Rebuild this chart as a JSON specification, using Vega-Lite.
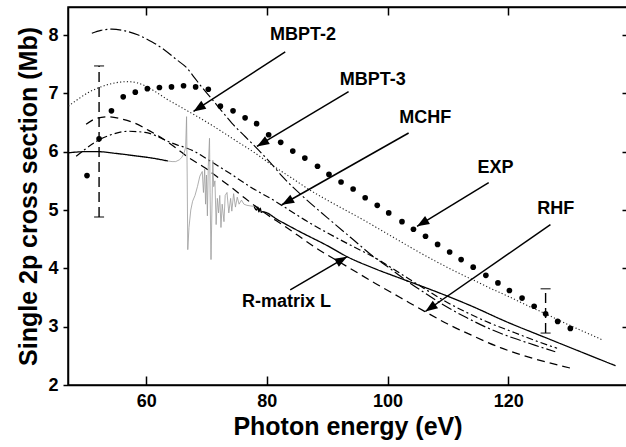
{
  "$schema": "https://vega.github.io/schema/vega-lite/v6.json",
  "width": 559,
  "height": 378,
  "autosize": {"type": "none"},
  "padding": {"left": 68, "top": 7, "right": 0, "bottom": 62},
  "background": "white",
  "config": {
    "view": {"stroke": "black", "strokeWidth": 1.5},
    "font": "Liberation Sans",
    "axis": {
      "domainColor": "black", "domainWidth": 1.5, "tickColor": "black", "tickWidth": 1.5,
      "labelColor": "black", "titleColor": "black", "labelFont": "Liberation Sans", "titleFont": "Liberation Sans",
      "labelFontWeight": "bold", "titleFontWeight": "bold", "labelFontSize": 18, "titleFontSize": 25,
      "grid": false, "labelFlush": false
    }
  },
  "datasets": {
    "curves": [
      {"series": "MBPT-2", "part": "m2", "E": 47.1, "s": 6.78},
      {"series": "MBPT-2", "part": "m2", "E": 49, "s": 6.92},
      {"series": "MBPT-2", "part": "m2", "E": 50.5, "s": 7.02},
      {"series": "MBPT-2", "part": "m2", "E": 52, "s": 7.09},
      {"series": "MBPT-2", "part": "m2", "E": 54, "s": 7.16},
      {"series": "MBPT-2", "part": "m2", "E": 55.5, "s": 7.19},
      {"series": "MBPT-2", "part": "m2", "E": 57, "s": 7.2},
      {"series": "MBPT-2", "part": "m2", "E": 58.5, "s": 7.18},
      {"series": "MBPT-2", "part": "m2", "E": 60, "s": 7.12},
      {"series": "MBPT-2", "part": "m2", "E": 61.5, "s": 7.03},
      {"series": "MBPT-2", "part": "m2", "E": 63.6, "s": 6.89},
      {"series": "MBPT-2", "part": "m2", "E": 65.5, "s": 6.78},
      {"series": "MBPT-2", "part": "m2", "E": 67.5, "s": 6.66},
      {"series": "MBPT-2", "part": "m2", "E": 70, "s": 6.51},
      {"series": "MBPT-2", "part": "m2", "E": 72, "s": 6.38},
      {"series": "MBPT-2", "part": "m2", "E": 75, "s": 6.18},
      {"series": "MBPT-2", "part": "m2", "E": 78, "s": 5.98},
      {"series": "MBPT-2", "part": "m2", "E": 81, "s": 5.76},
      {"series": "MBPT-2", "part": "m2", "E": 84.4, "s": 5.53},
      {"series": "MBPT-2", "part": "m2", "E": 87, "s": 5.35},
      {"series": "MBPT-2", "part": "m2", "E": 90, "s": 5.17},
      {"series": "MBPT-2", "part": "m2", "E": 93, "s": 5.0},
      {"series": "MBPT-2", "part": "m2", "E": 96, "s": 4.83},
      {"series": "MBPT-2", "part": "m2", "E": 99, "s": 4.65},
      {"series": "MBPT-2", "part": "m2", "E": 102, "s": 4.47},
      {"series": "MBPT-2", "part": "m2", "E": 105, "s": 4.29},
      {"series": "MBPT-2", "part": "m2", "E": 108, "s": 4.12},
      {"series": "MBPT-2", "part": "m2", "E": 111, "s": 3.96},
      {"series": "MBPT-2", "part": "m2", "E": 114, "s": 3.81},
      {"series": "MBPT-2", "part": "m2", "E": 117, "s": 3.66},
      {"series": "MBPT-2", "part": "m2", "E": 120, "s": 3.52},
      {"series": "MBPT-2", "part": "m2", "E": 123, "s": 3.37},
      {"series": "MBPT-2", "part": "m2", "E": 126, "s": 3.23},
      {"series": "MBPT-2", "part": "m2", "E": 129, "s": 3.08},
      {"series": "MBPT-2", "part": "m2", "E": 132, "s": 2.94},
      {"series": "MBPT-2", "part": "m2", "E": 135.5, "s": 2.78},

      {"series": "MBPT-3", "part": "m3", "E": 51.0, "s": 8.03},
      {"series": "MBPT-3", "part": "m3", "E": 52.5, "s": 8.08},
      {"series": "MBPT-3", "part": "m3", "E": 54.3, "s": 8.1},
      {"series": "MBPT-3", "part": "m3", "E": 56.5, "s": 8.07},
      {"series": "MBPT-3", "part": "m3", "E": 58.7, "s": 8.0},
      {"series": "MBPT-3", "part": "m3", "E": 61, "s": 7.88},
      {"series": "MBPT-3", "part": "m3", "E": 63.1, "s": 7.74},
      {"series": "MBPT-3", "part": "m3", "E": 65, "s": 7.58},
      {"series": "MBPT-3", "part": "m3", "E": 66.7, "s": 7.44},
      {"series": "MBPT-3", "part": "m3", "E": 68, "s": 7.27},
      {"series": "MBPT-3", "part": "m3", "E": 69.2, "s": 7.11},
      {"series": "MBPT-3", "part": "m3", "E": 70.6, "s": 6.94},
      {"series": "MBPT-3", "part": "m3", "E": 72.5, "s": 6.7},
      {"series": "MBPT-3", "part": "m3", "E": 74.2, "s": 6.49},
      {"series": "MBPT-3", "part": "m3", "E": 76.4, "s": 6.26},
      {"series": "MBPT-3", "part": "m3", "E": 78.6, "s": 6.03},
      {"series": "MBPT-3", "part": "m3", "E": 80.5, "s": 5.82},
      {"series": "MBPT-3", "part": "m3", "E": 82.8, "s": 5.55},
      {"series": "MBPT-3", "part": "m3", "E": 86, "s": 5.23},
      {"series": "MBPT-3", "part": "m3", "E": 90, "s": 4.87},
      {"series": "MBPT-3", "part": "m3", "E": 94, "s": 4.52},
      {"series": "MBPT-3", "part": "m3", "E": 97.7, "s": 4.2},
      {"series": "MBPT-3", "part": "m3", "E": 100, "s": 4.03},
      {"series": "MBPT-3", "part": "m3", "E": 103, "s": 3.8},
      {"series": "MBPT-3", "part": "m3", "E": 106, "s": 3.59},
      {"series": "MBPT-3", "part": "m3", "E": 109.3, "s": 3.37},
      {"series": "MBPT-3", "part": "m3", "E": 113, "s": 3.16},
      {"series": "MBPT-3", "part": "m3", "E": 117, "s": 2.96},
      {"series": "MBPT-3", "part": "m3", "E": 121, "s": 2.8},
      {"series": "MBPT-3", "part": "m3", "E": 124.5, "s": 2.68},
      {"series": "MBPT-3", "part": "m3", "E": 127.8, "s": 2.57},

      {"series": "MCHF", "part": "mc", "E": 48.4, "s": 5.92},
      {"series": "MCHF", "part": "mc", "E": 50, "s": 6.05},
      {"series": "MCHF", "part": "mc", "E": 52, "s": 6.19},
      {"series": "MCHF", "part": "mc", "E": 54.5, "s": 6.3},
      {"series": "MCHF", "part": "mc", "E": 57, "s": 6.35},
      {"series": "MCHF", "part": "mc", "E": 59.8, "s": 6.33},
      {"series": "MCHF", "part": "mc", "E": 61.5, "s": 6.28},
      {"series": "MCHF", "part": "mc", "E": 63.1, "s": 6.2},
      {"series": "MCHF", "part": "mc", "E": 65, "s": 6.12},
      {"series": "MCHF", "part": "mc", "E": 66.5, "s": 6.07},
      {"series": "MCHF", "part": "mc", "E": 68.1, "s": 6.0},
      {"series": "MCHF", "part": "mc", "E": 70, "s": 5.88},
      {"series": "MCHF", "part": "mc", "E": 72, "s": 5.75},
      {"series": "MCHF", "part": "mc", "E": 74, "s": 5.62},
      {"series": "MCHF", "part": "mc", "E": 77.2, "s": 5.4},
      {"series": "MCHF", "part": "mc", "E": 81.4, "s": 5.15},
      {"series": "MCHF", "part": "mc", "E": 84, "s": 4.98},
      {"series": "MCHF", "part": "mc", "E": 86.6, "s": 4.81},
      {"series": "MCHF", "part": "mc", "E": 90, "s": 4.61},
      {"series": "MCHF", "part": "mc", "E": 94, "s": 4.39},
      {"series": "MCHF", "part": "mc", "E": 98.3, "s": 4.16},
      {"series": "MCHF", "part": "mc", "E": 102, "s": 3.92},
      {"series": "MCHF", "part": "mc", "E": 106, "s": 3.66},
      {"series": "MCHF", "part": "mc", "E": 109.3, "s": 3.45},
      {"series": "MCHF", "part": "mc", "E": 113, "s": 3.25},
      {"series": "MCHF", "part": "mc", "E": 117, "s": 3.06},
      {"series": "MCHF", "part": "mc", "E": 121, "s": 2.9},
      {"series": "MCHF", "part": "mc", "E": 124.5, "s": 2.76},
      {"series": "MCHF", "part": "mc", "E": 128.1, "s": 2.63},

      {"series": "RHF", "part": "rhf", "E": 50.05, "s": 6.47},
      {"series": "RHF", "part": "rhf", "E": 51.5, "s": 6.56},
      {"series": "RHF", "part": "rhf", "E": 53.7, "s": 6.6},
      {"series": "RHF", "part": "rhf", "E": 56, "s": 6.56},
      {"series": "RHF", "part": "rhf", "E": 58.1, "s": 6.49},
      {"series": "RHF", "part": "rhf", "E": 60.5, "s": 6.36},
      {"series": "RHF", "part": "rhf", "E": 63.1, "s": 6.2},
      {"series": "RHF", "part": "rhf", "E": 65, "s": 6.06},
      {"series": "RHF", "part": "rhf", "E": 67, "s": 5.9},
      {"series": "RHF", "part": "rhf", "E": 69.8, "s": 5.72},
      {"series": "RHF", "part": "rhf", "E": 72, "s": 5.55},
      {"series": "RHF", "part": "rhf", "E": 74.2, "s": 5.38},
      {"series": "RHF", "part": "rhf", "E": 76.4, "s": 5.2},
      {"series": "RHF", "part": "rhf", "E": 79.5, "s": 4.96},
      {"series": "RHF", "part": "rhf", "E": 83, "s": 4.72},
      {"series": "RHF", "part": "rhf", "E": 88.3, "s": 4.34},
      {"series": "RHF", "part": "rhf", "E": 93.8, "s": 4.0},
      {"series": "RHF", "part": "rhf", "E": 98, "s": 3.74},
      {"series": "RHF", "part": "rhf", "E": 102.1, "s": 3.5},
      {"series": "RHF", "part": "rhf", "E": 106, "s": 3.27},
      {"series": "RHF", "part": "rhf", "E": 109.9, "s": 3.05},
      {"series": "RHF", "part": "rhf", "E": 114, "s": 2.85},
      {"series": "RHF", "part": "rhf", "E": 118.7, "s": 2.64},
      {"series": "RHF", "part": "rhf", "E": 124, "s": 2.46},
      {"series": "RHF", "part": "rhf", "E": 130.3, "s": 2.29},

      {"series": "R-matrix L", "part": "ra", "E": 47.05, "s": 5.98},
      {"series": "R-matrix L", "part": "ra", "E": 50, "s": 6.0},
      {"series": "R-matrix L", "part": "ra", "E": 52, "s": 6.0},
      {"series": "R-matrix L", "part": "ra", "E": 55, "s": 5.97},
      {"series": "R-matrix L", "part": "ra", "E": 58.1, "s": 5.93},
      {"series": "R-matrix L", "part": "ra", "E": 61, "s": 5.89},
      {"series": "R-matrix L", "part": "ra", "E": 63.6, "s": 5.84},

      {"series": "R-matrix L", "part": "rb", "E": 77.9, "s": 5.06},
      {"series": "R-matrix L", "part": "rb", "E": 78.3, "s": 5.0},
      {"series": "R-matrix L", "part": "rb", "E": 78.5, "s": 5.05},
      {"series": "R-matrix L", "part": "rb", "E": 78.7, "s": 4.97},
      {"series": "R-matrix L", "part": "rb", "E": 78.9, "s": 5.03},
      {"series": "R-matrix L", "part": "rb", "E": 79.1, "s": 4.96},
      {"series": "R-matrix L", "part": "rb", "E": 79.3, "s": 4.97},
      {"series": "R-matrix L", "part": "rb", "E": 82, "s": 4.82},
      {"series": "R-matrix L", "part": "rb", "E": 86, "s": 4.6},
      {"series": "R-matrix L", "part": "rb", "E": 90, "s": 4.39},
      {"series": "R-matrix L", "part": "rb", "E": 93.3, "s": 4.2},
      {"series": "R-matrix L", "part": "rb", "E": 98, "s": 3.99},
      {"series": "R-matrix L", "part": "rb", "E": 102.1, "s": 3.83},
      {"series": "R-matrix L", "part": "rb", "E": 105.5, "s": 3.7},
      {"series": "R-matrix L", "part": "rb", "E": 108.8, "s": 3.57},
      {"series": "R-matrix L", "part": "rb", "E": 114, "s": 3.35},
      {"series": "R-matrix L", "part": "rb", "E": 119.8, "s": 3.08},
      {"series": "R-matrix L", "part": "rb", "E": 126, "s": 2.82},
      {"series": "R-matrix L", "part": "rb", "E": 132, "s": 2.57},
      {"series": "R-matrix L", "part": "rb", "E": 137.8, "s": 2.33}
    ],
    "res": [
      {"E": 63.6, "s": 5.84}, {"E": 64.3, "s": 5.83}, {"E": 64.9, "s": 5.83}, {"E": 65.5, "s": 5.86},
      {"E": 65.9, "s": 5.9}, {"E": 66.3, "s": 5.98}, {"E": 66.55, "s": 6.08}, {"E": 66.7, "s": 6.6},
      {"E": 66.8, "s": 5.6}, {"E": 66.9, "s": 4.32}, {"E": 67.1, "s": 4.7}, {"E": 67.4, "s": 5.0},
      {"E": 67.7, "s": 5.15}, {"E": 68.1, "s": 5.25}, {"E": 68.5, "s": 5.4}, {"E": 68.9, "s": 5.58},
      {"E": 69.3, "s": 5.66}, {"E": 69.5, "s": 5.3}, {"E": 69.7, "s": 5.7}, {"E": 69.85, "s": 5.1},
      {"E": 70.0, "s": 5.6}, {"E": 70.15, "s": 4.9}, {"E": 70.3, "s": 5.75}, {"E": 70.5, "s": 6.23},
      {"E": 70.6, "s": 5.3}, {"E": 70.75, "s": 4.15}, {"E": 70.9, "s": 5.0}, {"E": 71.05, "s": 5.85},
      {"E": 71.2, "s": 5.4}, {"E": 71.4, "s": 5.5}, {"E": 71.6, "s": 4.75}, {"E": 71.8, "s": 5.2},
      {"E": 72.0, "s": 4.95}, {"E": 72.2, "s": 5.25}, {"E": 72.4, "s": 4.7}, {"E": 72.6, "s": 5.1},
      {"E": 72.9, "s": 4.8}, {"E": 73.1, "s": 5.25}, {"E": 73.4, "s": 5.3}, {"E": 73.7, "s": 4.95},
      {"E": 74.0, "s": 5.2}, {"E": 74.2, "s": 4.98}, {"E": 74.5, "s": 5.28}, {"E": 74.8, "s": 5.05},
      {"E": 75.1, "s": 5.22}, {"E": 75.4, "s": 5.1}, {"E": 75.8, "s": 5.17}, {"E": 76.2, "s": 5.1},
      {"E": 76.7, "s": 5.08}, {"E": 77.3, "s": 5.07}, {"E": 77.9, "s": 5.06}
    ],
    "exp": [
      {"E": 50.2, "s": 5.59}, {"E": 52.2, "s": 6.22}, {"E": 54.25, "s": 6.7}, {"E": 56.2, "s": 6.94},
      {"E": 58.2, "s": 7.02}, {"E": 60.2, "s": 7.08}, {"E": 62.2, "s": 7.1}, {"E": 64.2, "s": 7.11},
      {"E": 66.2, "s": 7.13}, {"E": 68.2, "s": 7.11}, {"E": 70.3, "s": 7.07}, {"E": 72.3, "s": 6.78},
      {"E": 74.4, "s": 6.7}, {"E": 76.4, "s": 6.58}, {"E": 78.3, "s": 6.48}, {"E": 80.3, "s": 6.29},
      {"E": 82.3, "s": 6.16}, {"E": 84.3, "s": 6.01}, {"E": 86.3, "s": 5.89}, {"E": 88.4, "s": 5.75},
      {"E": 90.3, "s": 5.61}, {"E": 92.3, "s": 5.48}, {"E": 94.3, "s": 5.36}, {"E": 96.3, "s": 5.21},
      {"E": 98.3, "s": 5.08}, {"E": 100.2, "s": 4.95}, {"E": 102.4, "s": 4.8}, {"E": 104.3, "s": 4.67},
      {"E": 106.3, "s": 4.55}, {"E": 108.3, "s": 4.41}, {"E": 110.3, "s": 4.28}, {"E": 112.2, "s": 4.15},
      {"E": 114.2, "s": 4.02}, {"E": 116.3, "s": 3.88}, {"E": 118.3, "s": 3.75}, {"E": 120.2, "s": 3.62},
      {"E": 122.3, "s": 3.49}, {"E": 124.3, "s": 3.35}, {"E": 126.2, "s": 3.22}, {"E": 128.2, "s": 3.09},
      {"E": 130.3, "s": 2.97}
    ],
    "err": [
      {"E": 52.2, "lo": 4.88, "hi": 7.47},
      {"E": 126.2, "lo": 2.89, "hi": 3.65}
    ],
    "notes": [
      {"label": "MBPT-2", "lx": 86.0, "ly": 8.0, "x1": 83.05, "y1": 7.71, "x2": 67.85, "y2": 6.69},
      {"label": "MBPT-3", "lx": 97.56, "ly": 7.23, "x1": 93.55, "y1": 7.03, "x2": 78.36, "y2": 6.09},
      {"label": "MCHF", "lx": 106.27, "ly": 6.57, "x1": 103.5, "y1": 6.32, "x2": 82.5, "y2": 5.09},
      {"label": "EXP", "lx": 117.9, "ly": 5.72, "x1": 116.77, "y1": 5.47, "x2": 104.9, "y2": 4.72},
      {"label": "RHF", "lx": 127.9, "ly": 5.02, "x1": 127.0, "y1": 4.75, "x2": 106.27, "y2": 3.26},
      {"label": "R-matrix L", "lx": 83.27, "ly": 3.43, "x1": 83.88, "y1": 3.63, "x2": 93.3, "y2": 4.2}
    ]
  },
  "resolve": {"axis": {"x": "independent", "y": "independent"}},
  "layer": [
    {
      "data": {"name": "curves"},
      "mark": {"type": "line", "interpolate": "monotone"},
      "encoding": {
        "x": {"field": "E", "type": "quantitative", "scale": {"domain": [47.05, 139.69], "nice": false, "zero": false},
              "axis": {"orient": "bottom", "values": [60, 80, 100, 120], "tickSize": -9, "labelPadding": 16, "title": "Photon energy (eV)", "titlePadding": 4}},
        "y": {"field": "s", "type": "quantitative", "scale": {"domain": [2, 8.48], "nice": false, "zero": false},
              "axis": {"orient": "left", "values": [2, 3, 4, 5, 6, 7, 8], "tickSize": 5, "labelPadding": 5, "title": "Single 2p cross section (Mb)", "titlePadding": 6}},
        "detail": {"field": "part"},
        "strokeDash": {"field": "series", "type": "nominal", "legend": null,
          "scale": {"domain": ["MBPT-2", "MBPT-3", "MCHF", "RHF", "R-matrix L"],
                    "range": [[1.2, 2.2], [11, 3, 2, 3], [7, 3, 2, 3], [8, 5], [1, 0]]}},
        "color": {"field": "series", "type": "nominal", "legend": null,
          "scale": {"domain": ["MBPT-2", "MBPT-3", "MCHF", "RHF", "R-matrix L"],
                    "range": ["#222222", "black", "black", "black", "black"]}},
        "strokeWidth": {"field": "series", "type": "nominal", "legend": null,
          "scale": {"domain": ["MBPT-2", "MBPT-3", "MCHF", "RHF", "R-matrix L"],
                    "range": [1.1, 1.3, 1.3, 1.4, 1.5]}}
      }
    },
    {
      "data": {"name": "res"},
      "mark": {"type": "line", "interpolate": "linear", "color": "#9a9a9a", "strokeWidth": 0.8},
      "encoding": {
        "x": {"field": "E", "type": "quantitative", "scale": {"domain": [47.05, 139.69], "nice": false, "zero": false}, "axis": null},
        "y": {"field": "s", "type": "quantitative", "scale": {"domain": [2, 8.48], "nice": false, "zero": false}, "axis": null}
      }
    },
    {
      "data": {"name": "err"},
      "mark": {"type": "rule", "color": "black", "strokeWidth": 1.4, "strokeDash": [10, 5]},
      "encoding": {
        "x": {"field": "E", "type": "quantitative", "scale": {"domain": [47.05, 139.69], "nice": false, "zero": false}, "axis": null},
        "y": {"field": "lo", "type": "quantitative", "scale": {"domain": [2, 8.48], "nice": false, "zero": false}, "axis": null},
        "y2": {"field": "hi"}
      }
    },
    {
      "data": {"name": "err"},
      "mark": {"type": "tick", "orient": "horizontal", "color": "black", "size": 10, "thickness": 1.4},
      "encoding": {
        "x": {"field": "E", "type": "quantitative", "scale": {"domain": [47.05, 139.69], "nice": false, "zero": false}, "axis": null},
        "y": {"field": "lo", "type": "quantitative", "scale": {"domain": [2, 8.48], "nice": false, "zero": false}, "axis": null}
      }
    },
    {
      "data": {"name": "err"},
      "mark": {"type": "tick", "orient": "horizontal", "color": "black", "size": 10, "thickness": 1.4},
      "encoding": {
        "x": {"field": "E", "type": "quantitative", "scale": {"domain": [47.05, 139.69], "nice": false, "zero": false}, "axis": null},
        "y": {"field": "hi", "type": "quantitative", "scale": {"domain": [2, 8.48], "nice": false, "zero": false}, "axis": null}
      }
    },
    {
      "data": {"name": "exp"},
      "mark": {"type": "point", "filled": true, "color": "black", "size": 32, "opacity": 1},
      "encoding": {
        "x": {"field": "E", "type": "quantitative", "scale": {"domain": [47.05, 139.69], "nice": false, "zero": false}, "axis": null},
        "y": {"field": "s", "type": "quantitative", "scale": {"domain": [2, 8.48], "nice": false, "zero": false}, "axis": null}
      }
    },
    {
      "data": {"name": "notes"},
      "mark": {"type": "rule", "color": "black", "strokeWidth": 1.5},
      "encoding": {
        "x": {"field": "x1", "type": "quantitative", "scale": {"domain": [47.05, 139.69], "nice": false, "zero": false}, "axis": null},
        "y": {"field": "y1", "type": "quantitative", "scale": {"domain": [2, 8.48], "nice": false, "zero": false}, "axis": null},
        "x2": {"field": "x2"},
        "y2": {"field": "y2"}
      }
    },
    {
      "data": {"name": "notes"},
      "transform": [
        {"calculate": "atan2((datum.x2 - datum.x1) * 6.034, (datum.y2 - datum.y1) * 58.33) * 180 / PI", "as": "ang"}
      ],
      "mark": {"type": "point", "shape": "M0,0L0.38,1L-0.38,1Z", "filled": true, "color": "black", "size": 600, "opacity": 1, "strokeWidth": 0},
      "encoding": {
        "x": {"field": "x2", "type": "quantitative", "scale": {"domain": [47.05, 139.69], "nice": false, "zero": false}, "axis": null},
        "y": {"field": "y2", "type": "quantitative", "scale": {"domain": [2, 8.48], "nice": false, "zero": false}, "axis": null},
        "angle": {"field": "ang", "type": "quantitative", "scale": null}
      }
    },
    {
      "data": {"name": "notes"},
      "mark": {"type": "text", "font": "Liberation Sans", "fontWeight": "bold", "fontSize": 18, "color": "black", "align": "center", "baseline": "middle"},
      "encoding": {
        "x": {"field": "lx", "type": "quantitative", "scale": {"domain": [47.05, 139.69], "nice": false, "zero": false},
              "axis": {"orient": "top", "values": [60, 80, 100, 120], "tickSize": -8, "labels": false, "title": null}},
        "y": {"field": "ly", "type": "quantitative", "scale": {"domain": [2, 8.48], "nice": false, "zero": false},
              "axis": {"orient": "right", "values": [3, 4, 5, 6, 7, 8], "tickSize": -5, "labels": false, "title": null}},
        "text": {"field": "label"}
      }
    }
  ]
}
